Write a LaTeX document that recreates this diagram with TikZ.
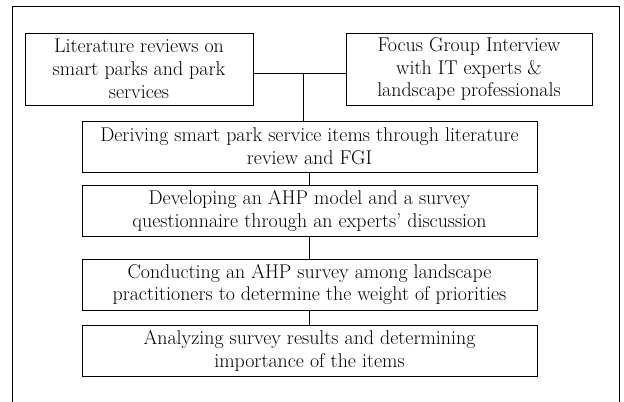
\documentclass[tikz,border=0pt]{standalone}
\usepackage{fontspec}
\usetikzlibrary{positioning}

\tikzset{
	stepbox/.style = {draw, line width = 0.7pt, align = center, inner sep = 0pt,
		font = \fontsize{17pt}{19.6pt}\selectfont},
	link/.style = {line width = 0.5pt}
}

\begin{document}
\begin{tikzpicture}[x = 0.03cm, y = -0.03cm]

	% Definitions
	
	\def\W{455}		% Width of the long boxes
	\def\H{51}		% Height of the long boxes
	
	\useasboundingbox (0, 0) rectangle (624, 402);
	
	% Draw outer frame (open at the bottom)
	
	\draw [line width = 0.6pt] (12, 402) -- (12, 6) -- (619, 6) -- (619, 402);
	
	% Draw top boxes
	
	\node [stepbox, minimum width = 228 * 0.03cm, minimum height = 72 * 0.03cm] (lit) at (139, 69)
		{Literature reviews on\\smart parks and park\\services};
	\node [stepbox, minimum width = 246 * 0.03cm, minimum height = 72 * 0.03cm] (fgi) at (469, 69)
		{Focus Group Interview\\with IT experts \&\\landscape professionals};
	
	% Draw steps
	
	\node [stepbox, minimum width = \W * 0.03cm, minimum height = \H * 0.03cm] (derive) at (309.5, 146.5)
		{Deriving smart park service items through literature\\review and FGI};
	\node [stepbox, minimum width = \W * 0.03cm, minimum height = \H * 0.03cm] (model) at (309.5, 211)
		{Developing an AHP model and a survey\\questionnaire through an experts' discussion};
	\node [stepbox, minimum width = \W * 0.03cm, minimum height = \H * 0.03cm] (survey) at (309.5, 284.5)
		{Conducting an AHP survey among landscape\\practitioners to determine the weight of priorities};
	\node [stepbox, minimum width = \W * 0.03cm, minimum height = \H * 0.03cm] (analyze) at (309.5, 350.5)
		{Analyzing survey results and determining\\importance of the items};
	
	% Draw connectors
	
	\coordinate (join) at (303, 73);
	\draw [link] (lit.east |- join) -- (fgi.west |- join);
	\draw [link] (join) -- (join |- derive.north);
	
	\foreach \a/\b in {derive/model, model/survey, survey/analyze}
		\draw [link] (\a.south) -- (\b.north);
	
\end{tikzpicture}
\end{document}
